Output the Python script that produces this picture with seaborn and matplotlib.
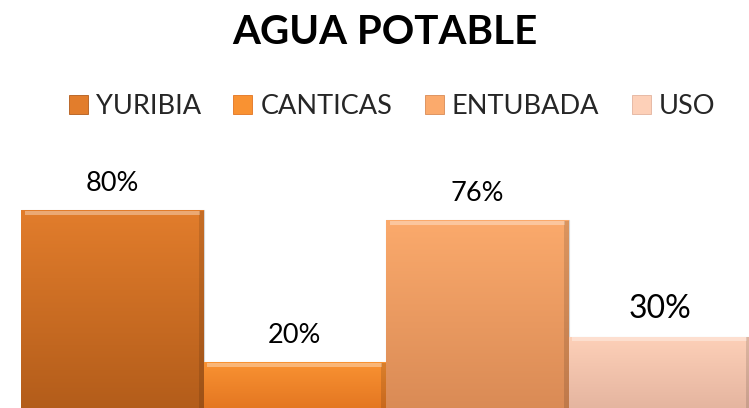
import numpy as np
import matplotlib
matplotlib.use("Agg")
import matplotlib.pyplot as plt
from matplotlib.colors import to_rgb
from matplotlib.patches import Patch
import pandas as pd
import seaborn as sns

# Data
categories = ["YURIBIA", "CANTICAS", "ENTUBADA", "USO"]
values = [80, 20, 76, 30]
value_labels = ["80%", "20%", "76%", "30%"]

# top / bottom colours of each bar's gradient
top_colors = ["#E27D2C", "#F99232", "#FBAA6C", "#FDD0B8"]
bottom_colors = ["#B25C1A", "#E27420", "#D98A55", "#E3B39E"]

df = pd.DataFrame({"cat": categories, "val": values})

sns.set_style("white")
plt.rcParams["font.family"] = ["Lato", "DejaVu Sans"]

fig = plt.figure(figsize=(7.49, 4.08), dpi=100)
ax = fig.add_axes([21 / 749, -4.7 / 408, 730 / 749, 253.3 / 408])

sns.barplot(data=df, x="cat", y="val", hue="cat", palette=top_colors,
            width=1.0, legend=False, ax=ax, edgecolor="#D6D6D6", linewidth=0.8)

# vertical gradient inside each bar, top lighter than bottom
for bar, c_top, c_bot in zip(ax.patches, top_colors, bottom_colors):
    x0, y0 = bar.get_x(), bar.get_y()
    w, h = bar.get_width(), bar.get_height()
    t = np.array(to_rgb(c_top))
    b = np.array(to_rgb(c_bot))
    frac = np.linspace(0, 1, 256)[:, None]
    grad = (t * (1 - frac) + b * frac)[:, None, :]
    im = ax.imshow(grad, extent=[x0, x0 + w, y0, y0 + h], aspect="auto",
                   zorder=bar.get_zorder() + 0.1, origin="upper")
    im.set_clip_path(bar)
    # light bevel strip on top edge, darker strip on right edge
    ax.fill_between([x0 + w * 0.02, x0 + w * 0.98], y0 + h - 1.8, y0 + h - 0.3,
                    color="white", alpha=0.35, lw=0, zorder=bar.get_zorder() + 0.2)
    ax.fill_between([x0 + w * 0.975, x0 + w], y0, y0 + h - 0.3,
                    color="black", alpha=0.12, lw=0, zorder=bar.get_zorder() + 0.2)

label_sizes = [19.5, 19.5, 19.5, 23]
for i, (v, lab) in enumerate(zip(values, value_labels)):
    ax.annotate(lab, xy=(i, v), xytext=(0, 13.5), textcoords="offset points",
                ha="center", va="baseline", fontsize=label_sizes[i], color="black")

ax.set_xlim(-0.5, 3.5)
ax.set_ylim(0, 100)
ax.set_xlabel("")
ax.set_ylabel("")
ax.set_xticks([])
ax.set_yticks([])
sns.despine(ax=ax, left=True, bottom=True)

fig.text(385 / 749, 1 - 33 / 408, "AGUA POTABLE", ha="center", va="center",
         fontsize=29, fontweight="bold", color="black")

handles = [Patch(facecolor=c, edgecolor=b, linewidth=0.6) for c, b in zip(top_colors, bottom_colors)]
fig.legend(handles, categories, loc="center", bbox_to_anchor=(392 / 749, 1 - 106 / 408),
           ncol=4, frameon=False, fontsize=19.5, handlelength=0.7, handleheight=0.7,
           handletextpad=0.3, columnspacing=1.2, borderpad=0, borderaxespad=0)

fig.savefig("out.png", dpi=100)
